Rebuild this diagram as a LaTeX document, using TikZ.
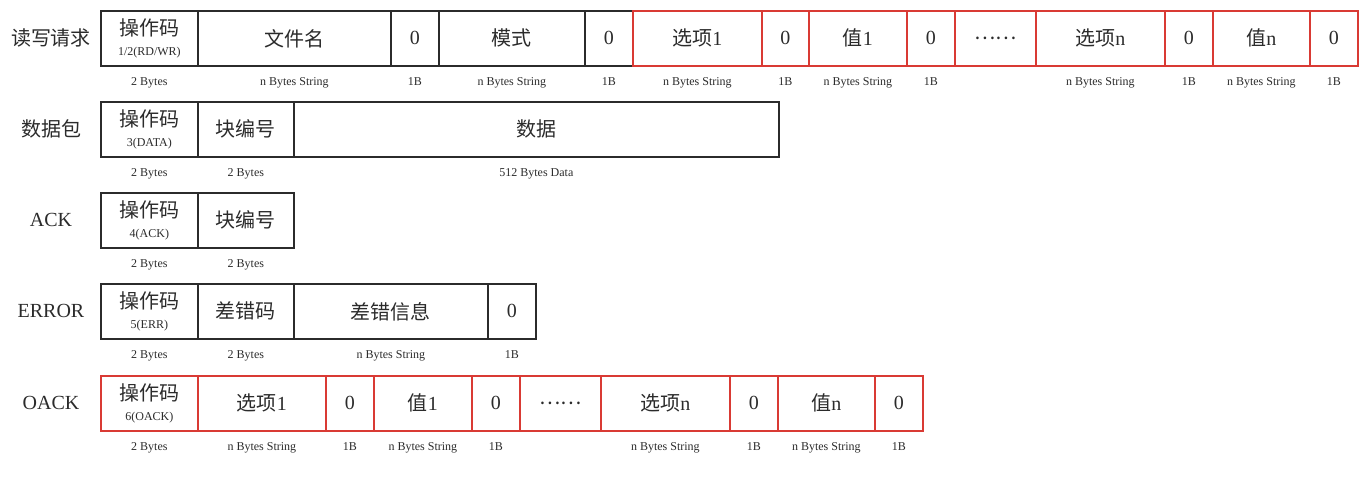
\documentclass[tikz,border=0pt]{standalone}
\usepackage{fontspec}
\setmainfont{Liberation Serif}
\newfontfamily\cjk{Noto Sans CJK SC}
\usetikzlibrary{positioning}
\definecolor{PktRed}{HTML}{D93A34}
\definecolor{PktBlack}{HTML}{2B2B2B}
\newcommand{\opcell}[1]{{\cjk 操作码}\\[-2pt]{\fontsize{12}{13}\selectfont #1}}

\begin{document}
\begin{tikzpicture}[x=1pt,y=-1pt,
    cell/.style={draw=PktBlack,line width=1.7pt,anchor=north west,minimum height=55pt,
      inner sep=0pt,align=center,text=PktBlack,font=\fontsize{20}{22}\selectfont},
    lbl/.style={inner sep=0pt,text height=8pt,text depth=3pt,text=PktBlack,
      font=\fontsize{12}{13}\selectfont},
    rowname/.style={inner sep=0pt,text=PktBlack,font=\fontsize{20}{24}\selectfont}]
  \useasboundingbox (0,0) rectangle (1369,494);

  % read / write request
  \node[rowname] (t1) at (51,37.5) {\cjk 读写请求};
  \foreach \a/\b/\txt/\lab/\c [count=\i] in {
      100/197/{\opcell{1/2(RD/WR)}}/2 Bytes/PktBlack,
      197/390/{\cjk 文件名}/n Bytes String/PktBlack,
      390/438/0/1B/PktBlack,
      438/584/{\cjk 模式}/n Bytes String/PktBlack,
      584/632/0/1B/PktBlack,
      632/761/{{\cjk 选项}1}/n Bytes String/PktRed,
      761/808/0/1B/PktRed,
      808/906/{{\cjk 值}1}/n Bytes String/PktRed,
      906/954/0/1B/PktRed,
      954/1035/{\cjk ……}/{}/PktRed,
      1035/1164/{{\cjk 选项}n}/n Bytes String/PktRed,
      1164/1212/0/1B/PktRed,
      1212/1309/{{\cjk 值}n}/n Bytes String/PktRed,
      1309/1357/0/1B/PktRed} {
    \node[cell,draw=\c,minimum width={(\b-\a)*1pt}] (rq\i) at (\a,10) {\txt};
    \node[lbl,below=11pt of rq\i] {\lab};
  }

  % data
  \node[rowname] (t2) at (51,128.5) {\cjk 数据包};
  \foreach \a/\b/\txt/\lab [count=\i] in {
      100/197/{\opcell{3(DATA)}}/2 Bytes,
      197/293/{\cjk 块编号}/2 Bytes,
      293/778/{\cjk 数据}/512 Bytes Data} {
    \node[cell,minimum width={(\b-\a)*1pt}] (dat\i) at (\a,101) {\txt};
    \node[lbl,below=11pt of dat\i] {\lab};
  }

  % ack
  \node[rowname] (t3) at (51,219.5) {ACK};
  \foreach \a/\b/\txt/\lab [count=\i] in {
      100/197/{\opcell{4(ACK)}}/2 Bytes,
      197/293/{\cjk 块编号}/2 Bytes} {
    \node[cell,minimum width={(\b-\a)*1pt}] (ack\i) at (\a,192) {\txt};
    \node[lbl,below=11pt of ack\i] {\lab};
  }

  % error
  \node[rowname] (t4) at (51,310.5) {ERROR};
  \foreach \a/\b/\txt/\lab [count=\i] in {
      100/197/{\opcell{5(ERR)}}/2 Bytes,
      197/293/{\cjk 差错码}/2 Bytes,
      293/487/{\cjk 差错信息}/n Bytes String,
      487/535/0/1B} {
    \node[cell,minimum width={(\b-\a)*1pt}] (err\i) at (\a,283) {\txt};
    \node[lbl,below=11pt of err\i] {\lab};
  }

  % option ack
  \node[rowname] (t5) at (51,402.5) {OACK};
  \foreach \a/\b/\txt/\lab [count=\i] in {
      100/197/{\opcell{6(OACK)}}/2 Bytes,
      197/325/{{\cjk 选项}1}/n Bytes String,
      325/373/0/1B,
      373/471/{{\cjk 值}1}/n Bytes String,
      471/519/0/1B,
      519/600/{\cjk ……}/{},
      600/729/{{\cjk 选项}n}/n Bytes String,
      729/777/0/1B,
      777/874/{{\cjk 值}n}/n Bytes String,
      874/922/0/1B} {
    \node[cell,draw=PktRed,minimum width={(\b-\a)*1pt}] (oack\i) at (\a,375) {\txt};
    \node[lbl,below=11pt of oack\i] {\lab};
  }
\end{tikzpicture}
\end{document}
